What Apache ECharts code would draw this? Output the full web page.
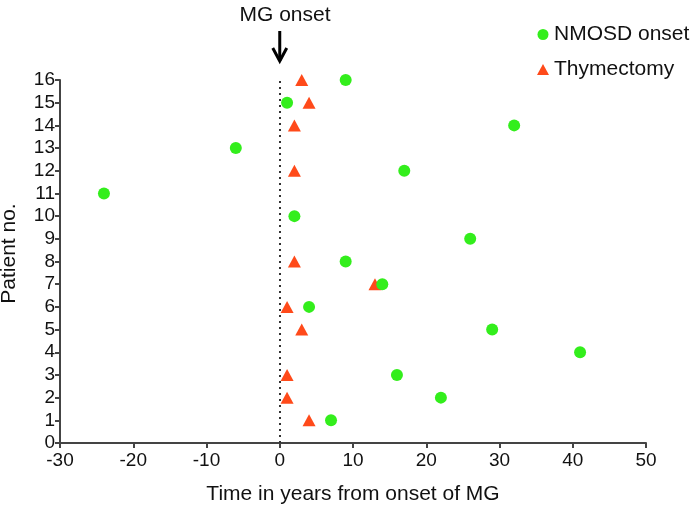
<!DOCTYPE html>
<html>
<head>
<meta charset="utf-8">
<script src="https://cdn.jsdelivr.net/npm/echarts@6/dist/echarts.min.js"></script>
<style>html,body{margin:0;padding:0;background:#fff}#c{width:692px;height:506px}</style>
</head>
<body>
<div id="c"></div>
<script>
const patients = [1,2,3,4,5,6,7,8,9,10,11,12,13,14,15,16];
const nmosdOnset = [7,22,16,41,29,4,14,9,26,2,-24,17,-6,32,1,9];
const thymPatients = [1,2,3,5,6,7,8,12,14,15,16];
const thymectomy = [4,1,1,3,1,13,2,2,2,4,3];
const xTicks = [-30,-20,-10,0,10,20,30,40,50];

const FONT = '"Liberation Sans", Arial, sans-serif';
const chart = echarts.init(document.getElementById('c'));
const option = {
  animation: false,
  backgroundColor: '#fff',
  title: {
    text: 'MG onset', left: 280, top: 0, textAlign: 'center',
    textStyle: {fontFamily: FONT, fontSize: 21, fontWeight: 'normal', color: '#111'}
  },
  legend: {
    orient: 'vertical', left: 532, top: 19, itemGap: 14,
    itemWidth: 12, itemHeight: 11,
    textStyle: {fontFamily: FONT, fontSize: 21, color: '#111'},
    data: [
      {name: 'NMOSD onset', icon: 'circle'},
      {name: 'Thymectomy', icon: 'triangle'}
    ]
  },
  grid: {left: 60, right: 46, top: 80, bottom: 63, outerBoundsMode: 'none', containLabel: false},
  xAxis: {
    type: 'value', min: -30, max: 50, interval: 10,
    name: 'Time in years from onset of MG', nameLocation: 'middle', nameGap: 41,
    nameTextStyle: {fontFamily: FONT, fontSize: 21, color: '#111'},
    axisLine: {onZero: false, lineStyle: {color: '#444', width: 2}},
    axisTick: {show: true, length: 5, lineStyle: {color: '#444', width: 2}},
    axisLabel: {fontFamily: FONT, fontSize: 19, color: '#111', margin: 8,
      formatter: v => xTicks.includes(v) ? String(v) : ''},
    splitLine: {show: false}
  },
  yAxis: {
    type: 'value', min: 0, max: 16, interval: 1,
    name: 'Patient no.', nameLocation: 'middle', nameGap: 40, nameRotate: 90,
    nameTextStyle: {fontFamily: FONT, fontSize: 21, color: '#111', padding: [0, 0, 0, 16]},
    axisLine: {show: true, onZero: false, lineStyle: {color: '#444', width: 2}},
    axisTick: {show: true, length: 5, lineStyle: {color: '#444', width: 2}},
    axisLabel: {fontFamily: FONT, fontSize: 19, color: '#111', margin: 5},
    splitLine: {show: false}
  },
  series: [
    {
      name: 'NMOSD onset', type: 'scatter', symbol: 'circle', symbolSize: 12,
      itemStyle: {color: '#33ee1c', opacity: 1},
      data: patients.map((p, i) => [nmosdOnset[i], p]),
      z: 3,
      markLine: {
        silent: true, symbol: 'none', label: {show: false},
        lineStyle: {type: [2, 4], color: '#333', width: 2},
        data: [{xAxis: 0}]
      }
    },
    {
      name: 'Thymectomy', type: 'scatter', symbol: 'triangle', symbolSize: [13, 12],
      itemStyle: {color: '#ff4a1a', opacity: 1},
      data: thymPatients.map((p, i) => [thymectomy[i], p]),
      z: 2
    }
  ]
};
chart.setOption(option);
const px = chart.convertToPixel({gridIndex: 0}, [0, 16]);
const ax = px[0];
chart.setOption({
  graphic: [
    {type: 'line', shape: {x1: ax, y1: 31, x2: ax, y2: 61}, style: {stroke: '#000', lineWidth: 3}},
    {type: 'polyline', shape: {points: [[ax - 7, 48], [ax, 61], [ax + 7, 48]]}, style: {stroke: '#000', lineWidth: 3, fill: null}}
  ]
});
</script>
</body>
</html>
